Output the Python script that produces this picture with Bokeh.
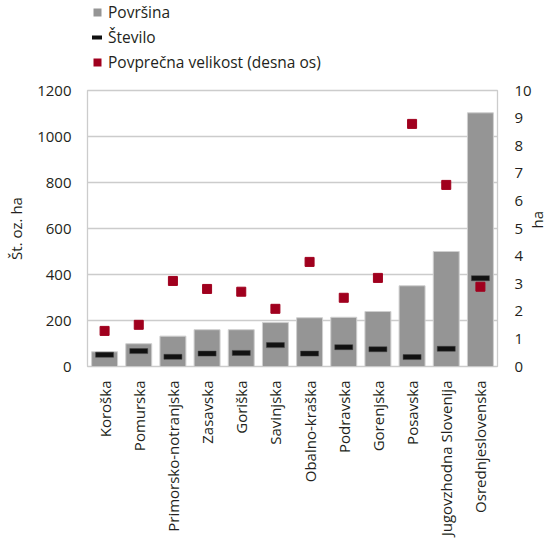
import math
from bokeh.plotting import figure
from bokeh.layouts import column
from bokeh.models import ColumnDataSource, Range1d, LinearAxis, FactorRange, Legend, LegendItem, FixedTicker
from bokeh.embed import file_html
from bokeh.resources import INLINE

regions = ["Koroška", "Pomurska", "Primorsko-notranjska", "Zasavska", "Goriška",
           "Savinjska", "Obalno-kraška", "Podravska", "Gorenjska", "Posavska",
           "Jugovzhodna Slovenija", "Osrednjeslovenska"]
povrsina = [64, 99, 132, 160, 160, 191, 212, 214, 239, 351, 500, 1103]
stevilo = [51, 67, 42, 56, 59, 93, 56, 84, 75, 41, 77, 384]
povprecna = [1.29, 1.51, 3.10, 2.81, 2.71, 2.09, 3.79, 2.49, 3.21, 8.79, 6.58, 2.89]

series_names = ["Površina", "Število", "Povprečna velikost (desna os)"]
left_ticks = [0, 200, 400, 600, 800, 1000, 1200]
right_ticks = list(range(0, 11))

FONT = "Open Sans"
TXT = "#231f20"
GRAY = "#959595"
BLACK = "#111111"
RED = "#a0001e"

src = ColumnDataSource(dict(x=regions, pov=povrsina, st=stevilo, avg=povprecna))

# ---- main chart ----
p = figure(x_range=FactorRange(*regions, range_padding=0), y_range=Range1d(0, 1200),
           width=559, height=470, output_backend="svg", toolbar_location=None,
           min_border_left=87, min_border_right=59, min_border_top=10, min_border_bottom=184)
p.extra_y_ranges = {"right": Range1d(0, 10)}

p.vbar(x="x", top="pov", width=0.76, source=src, fill_color=GRAY,
       line_color="#cfcfcf", line_width=1)
p.rect(x="x", y="st", width=18, height=5, width_units="screen", height_units="screen",
       source=src, fill_color=BLACK, line_color="#444444", line_width=0.5)
p.scatter(x="x", y="avg", y_range_name="right", marker="square", size=9, source=src,
          fill_color=RED, line_color=RED)

p.outline_line_color = "#cccccc"
p.outline_line_width = 1.3
p.xgrid.grid_line_color = None
p.ygrid.grid_line_color = "#cccccc"
p.ygrid.grid_line_width = 1.3
p.yaxis.ticker = FixedTicker(ticks=left_ticks)

ra = LinearAxis(y_range_name="right", ticker=FixedTicker(ticks=right_ticks), axis_label="ha")
p.add_layout(ra, "right")

for ax in [p.yaxis[0], ra, p.xaxis[0]]:
    ax.axis_line_color = None
    ax.major_tick_line_color = None
    ax.minor_tick_line_color = None
    ax.major_tick_out = 0
    ax.major_tick_in = 0
    ax.major_label_text_font = FONT
    ax.major_label_text_font_size = "15px"
    ax.major_label_text_color = TXT
    ax.axis_label_text_font = FONT
    ax.axis_label_text_font_size = "15px"
    ax.axis_label_text_color = TXT
    ax.axis_label_text_font_style = "normal"
    ax.major_label_standoff = 16

p.yaxis[0].axis_label = "Št. oz. ha"
p.yaxis[0].axis_label_standoff = 8
ra.major_label_standoff = 17
ra.axis_label_standoff = 2
if "axis_label_orientation" in ra.properties():
    ra.axis_label_orientation = math.pi / 2
p.xaxis[0].major_label_orientation = math.pi / 2
p.xaxis[0].major_label_standoff = 14

# ---- legend strip above the chart (its renderers are hidden; only their legend swatches show) ----
lg = figure(width=559, height=80, output_backend="svg", toolbar_location=None,
            x_range=Range1d(0, 1), y_range=Range1d(0, 1),
            x_axis_location=None, y_axis_location=None,
            min_border=0, outline_line_color=None)
lg.grid.grid_line_color = None
r1 = lg.vbar(x="avg", top="pov", width=0.5, source=src, fill_color=GRAY, line_color=None, visible=False)
r2 = lg.line(x="avg", y="st", source=src, line_color=BLACK, line_width=4, line_cap="round", visible=False)
r3 = lg.vbar(x="avg", top="avg", width=0.5, source=src, fill_color=RED, line_color=None, visible=False)
legend = Legend(items=[LegendItem(label=series_names[0], renderers=[r1], index=0),
                       LegendItem(label=series_names[1], renderers=[r2], index=0),
                       LegendItem(label=series_names[2], renderers=[r3], index=0)],
                location=(5, 7), orientation="vertical", click_policy="none",
                background_fill_alpha=0, border_line_color=None,
                inactive_fill_alpha=0,
                label_text_font=FONT, label_text_font_size="15.5px", label_text_color=TXT,
                glyph_width=10, glyph_height=10, label_standoff=6, spacing=3,
                padding=0, margin=0, label_height=20)
lg.add_layout(legend, "center")

layout = column(lg, p, spacing=0)
open("out.html", "w").write(file_html(layout, INLINE))
